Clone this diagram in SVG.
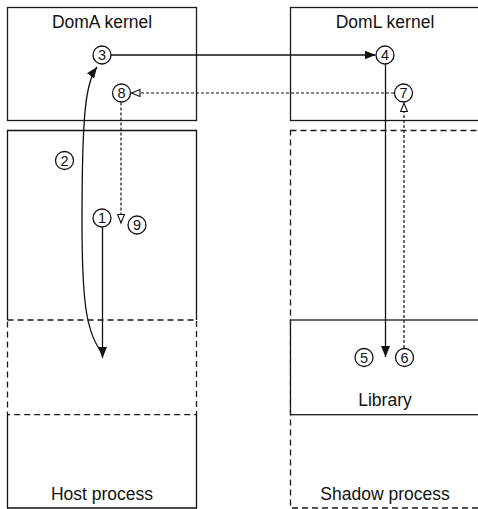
<svg xmlns="http://www.w3.org/2000/svg" width="478" height="509" viewBox="0 0 478 509">
<style>
.box{fill:#fff;stroke:#1a1a1a;stroke-width:1.3}
.dbox{fill:none;stroke:#1a1a1a;stroke-width:1.3;stroke-dasharray:6,4}
.lbl{font-family:"Liberation Sans",Arial,sans-serif;font-size:17.5px;fill:#111;text-anchor:middle}
.num circle{fill:#fff;stroke:#111;stroke-width:1.3}
.num text{font-family:"Liberation Sans",Arial,sans-serif;font-size:14.5px;fill:#111;text-anchor:middle}
.solid{fill:none;stroke:#111;stroke-width:1.3}
.dash{fill:none;stroke:#111;stroke-width:1.2;stroke-dasharray:3,2}
</style>
<defs>
<marker id="fa" markerUnits="userSpaceOnUse" markerWidth="12" markerHeight="10" refX="11" refY="4.5" orient="auto-start-reverse">
<path d="M0,0 L11,4.5 L0,9 z" fill="#111"/>
</marker>
<marker id="oa" markerUnits="userSpaceOnUse" markerWidth="11" markerHeight="10" refX="9.5" refY="4" orient="auto">
<path d="M1,0.6 L9.5,4 L1,7.4 z" fill="#fff" stroke="#111" stroke-width="1.1"/>
</marker>
</defs>
<g id="domA">
<rect class="box" x="7.5" y="7.5" width="189" height="113"/>
<text class="lbl" x="102" y="28">DomA kernel</text>
</g>
<g id="host">
<path class="solid" d="M7.5,320 V130.5 H196.5 V320 M7.5,414.7 V508 H196.5 V414.7"/>
<rect class="dbox" x="7.5" y="320" width="189" height="94.7"/>
<text class="lbl" x="102" y="500">Host process</text>
</g>
<g id="domL">
<rect class="box" x="290.5" y="7.5" width="190" height="113"/>
<text class="lbl" x="385" y="28">DomL kernel</text>
</g>
<g id="shadow">
<rect class="dbox" x="290.5" y="130.5" width="190" height="377.5"/>
<text class="lbl" x="385" y="500">Shadow process</text>
</g>
<g id="library">
<rect class="box" x="290.5" y="320" width="190" height="94.7"/>
<text class="lbl" x="385" y="406">Library</text>
</g>
<g id="connectors">
<line class="solid" x1="111" y1="55" x2="375.5" y2="55" marker-end="url(#fa)"/>
<line class="solid" x1="385.5" y1="64" x2="385.5" y2="357" marker-end="url(#fa)"/>
<line class="dash" x1="404" y1="348" x2="404" y2="103" marker-end="url(#oa)"/>
<line class="dash" x1="394" y1="93" x2="131.5" y2="93" marker-end="url(#oa)"/>
<line class="dash" x1="121" y1="102.5" x2="121" y2="223" marker-end="url(#oa)"/>
<line class="solid" x1="102.5" y1="227.5" x2="102.5" y2="358" marker-end="url(#fa)"/>
<path class="solid" d="M97,67 C86,82 82,110 82,220 C82,300 86,330 100,350" marker-start="url(#fa)"/>
</g>
<g id="n1" class="num"><circle cx="102" cy="218" r="9"/><text x="102" y="223.2">1</text></g>
<g id="n2" class="num"><circle cx="64.5" cy="160.5" r="9"/><text x="64.5" y="165.7">2</text></g>
<g id="n3" class="num"><circle cx="102" cy="55" r="9"/><text x="102" y="60.2">3</text></g>
<g id="n4" class="num"><circle cx="385" cy="55" r="9"/><text x="385" y="60.2">4</text></g>
<g id="n5" class="num"><circle cx="364" cy="357.5" r="9"/><text x="364" y="362.7">5</text></g>
<g id="n6" class="num"><circle cx="404.5" cy="357.5" r="9"/><text x="404.5" y="362.7">6</text></g>
<g id="n7" class="num"><circle cx="403.5" cy="93" r="9"/><text x="403.5" y="98.2">7</text></g>
<g id="n8" class="num"><circle cx="121.5" cy="93" r="9"/><text x="121.5" y="98.2">8</text></g>
<g id="n9" class="num"><circle cx="137" cy="225" r="9"/><text x="137" y="230.2">9</text></g>
</svg>
